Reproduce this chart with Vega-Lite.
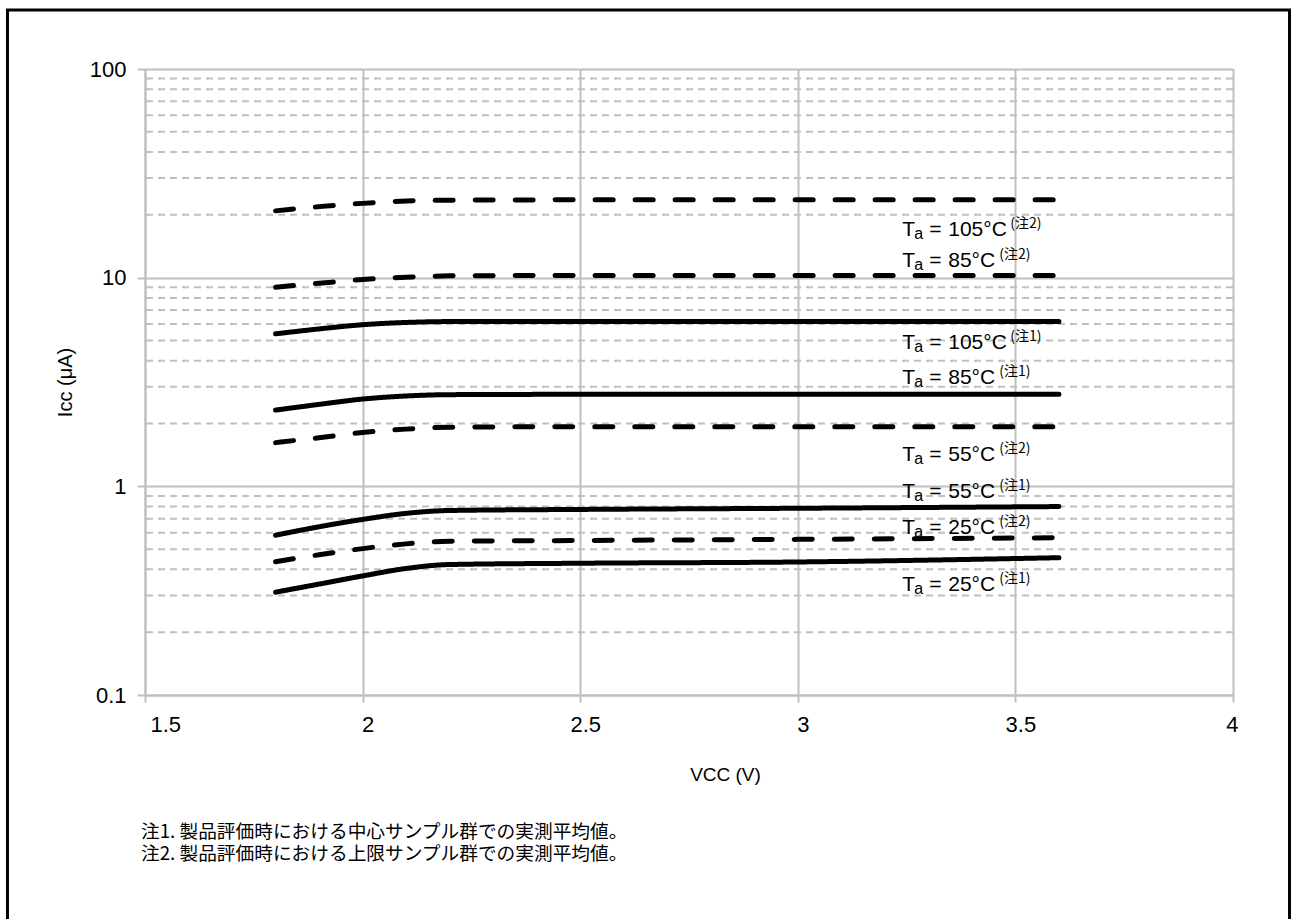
{
  "$schema": "https://vega.github.io/schema/vega-lite/v6.json",
  "autosize": {"type": "none"},
  "width": 1088,
  "height": 626,
  "padding": {"left": 145, "top": 69, "right": 58, "bottom": 224},
  "background": "white",
  "config": {
    "view": {"stroke": null},
    "font": "Liberation Sans",
    "axis": {"labelFont": "Liberation Sans", "titleFont": "Liberation Sans", "labelColor": "black", "titleColor": "black", "titleFontWeight": "normal"}
  },
  "datasets": {
    "series": [
      {"vcc": 1.8, "icc": 20.9, "series": "105注2", "note": "注2"},
      {"vcc": 1.9, "icc": 21.9, "series": "105注2", "note": "注2"},
      {"vcc": 2.0, "icc": 22.7, "series": "105注2", "note": "注2"},
      {"vcc": 2.1, "icc": 23.3, "series": "105注2", "note": "注2"},
      {"vcc": 2.2, "icc": 23.5, "series": "105注2", "note": "注2"},
      {"vcc": 2.5, "icc": 23.6, "series": "105注2", "note": "注2"},
      {"vcc": 3.0, "icc": 23.6, "series": "105注2", "note": "注2"},
      {"vcc": 3.6, "icc": 23.6, "series": "105注2", "note": "注2"},
      {"vcc": 1.8, "icc": 9.0, "series": "85注2", "note": "注2"},
      {"vcc": 1.9, "icc": 9.4, "series": "85注2", "note": "注2"},
      {"vcc": 2.0, "icc": 9.8, "series": "85注2", "note": "注2"},
      {"vcc": 2.1, "icc": 10.05, "series": "85注2", "note": "注2"},
      {"vcc": 2.2, "icc": 10.2, "series": "85注2", "note": "注2"},
      {"vcc": 2.5, "icc": 10.25, "series": "85注2", "note": "注2"},
      {"vcc": 3.0, "icc": 10.25, "series": "85注2", "note": "注2"},
      {"vcc": 3.6, "icc": 10.25, "series": "85注2", "note": "注2"},
      {"vcc": 1.8, "icc": 5.38, "series": "105注1", "note": "注1"},
      {"vcc": 1.9, "icc": 5.68, "series": "105注1", "note": "注1"},
      {"vcc": 2.0, "icc": 5.95, "series": "105注1", "note": "注1"},
      {"vcc": 2.1, "icc": 6.1, "series": "105注1", "note": "注1"},
      {"vcc": 2.2, "icc": 6.16, "series": "105注1", "note": "注1"},
      {"vcc": 2.5, "icc": 6.17, "series": "105注1", "note": "注1"},
      {"vcc": 3.0, "icc": 6.17, "series": "105注1", "note": "注1"},
      {"vcc": 3.6, "icc": 6.17, "series": "105注1", "note": "注1"},
      {"vcc": 1.8, "icc": 2.32, "series": "85注1", "note": "注1"},
      {"vcc": 1.9, "icc": 2.47, "series": "85注1", "note": "注1"},
      {"vcc": 2.0, "icc": 2.62, "series": "85注1", "note": "注1"},
      {"vcc": 2.1, "icc": 2.71, "series": "85注1", "note": "注1"},
      {"vcc": 2.2, "icc": 2.75, "series": "85注1", "note": "注1"},
      {"vcc": 2.5, "icc": 2.76, "series": "85注1", "note": "注1"},
      {"vcc": 3.0, "icc": 2.76, "series": "85注1", "note": "注1"},
      {"vcc": 3.6, "icc": 2.76, "series": "85注1", "note": "注1"},
      {"vcc": 1.8, "icc": 1.62, "series": "55注2", "note": "注2"},
      {"vcc": 1.9, "icc": 1.71, "series": "55注2", "note": "注2"},
      {"vcc": 2.0, "icc": 1.81, "series": "55注2", "note": "注2"},
      {"vcc": 2.1, "icc": 1.88, "series": "55注2", "note": "注2"},
      {"vcc": 2.2, "icc": 1.92, "series": "55注2", "note": "注2"},
      {"vcc": 2.5, "icc": 1.93, "series": "55注2", "note": "注2"},
      {"vcc": 3.0, "icc": 1.93, "series": "55注2", "note": "注2"},
      {"vcc": 3.6, "icc": 1.93, "series": "55注2", "note": "注2"},
      {"vcc": 1.8, "icc": 0.583, "series": "55注1", "note": "注1"},
      {"vcc": 1.9, "icc": 0.64, "series": "55注1", "note": "注1"},
      {"vcc": 2.0, "icc": 0.694, "series": "55注1", "note": "注1"},
      {"vcc": 2.1, "icc": 0.742, "series": "55注1", "note": "注1"},
      {"vcc": 2.2, "icc": 0.766, "series": "55注1", "note": "注1"},
      {"vcc": 2.5, "icc": 0.775, "series": "55注1", "note": "注1"},
      {"vcc": 3.0, "icc": 0.785, "series": "55注1", "note": "注1"},
      {"vcc": 3.6, "icc": 0.8, "series": "55注1", "note": "注1"},
      {"vcc": 1.8, "icc": 0.435, "series": "25注2", "note": "注2"},
      {"vcc": 1.9, "icc": 0.47, "series": "25注2", "note": "注2"},
      {"vcc": 2.0, "icc": 0.503, "series": "25注2", "note": "注2"},
      {"vcc": 2.1, "icc": 0.53, "series": "25注2", "note": "注2"},
      {"vcc": 2.2, "icc": 0.545, "series": "25注2", "note": "注2"},
      {"vcc": 2.5, "icc": 0.55, "series": "25注2", "note": "注2"},
      {"vcc": 3.0, "icc": 0.557, "series": "25注2", "note": "注2"},
      {"vcc": 3.6, "icc": 0.567, "series": "25注2", "note": "注2"},
      {"vcc": 1.8, "icc": 0.311, "series": "25注1", "note": "注1"},
      {"vcc": 1.9, "icc": 0.34, "series": "25注1", "note": "注1"},
      {"vcc": 2.0, "icc": 0.372, "series": "25注1", "note": "注1"},
      {"vcc": 2.1, "icc": 0.404, "series": "25注1", "note": "注1"},
      {"vcc": 2.2, "icc": 0.422, "series": "25注1", "note": "注1"},
      {"vcc": 2.5, "icc": 0.428, "series": "25注1", "note": "注1"},
      {"vcc": 3.0, "icc": 0.434, "series": "25注1", "note": "注1"},
      {"vcc": 3.6, "icc": 0.455, "series": "25注1", "note": "注1"}
    ],
    "labels": [
      {"lx": 3.24, "ly": 15.8, "temp": "105°C", "note": "(注2)"},
      {"lx": 3.24, "ly": 11.27, "temp": "85°C", "note": "(注2)"},
      {"lx": 3.24, "ly": 4.53, "temp": "105°C", "note": "(注1)"},
      {"lx": 3.24, "ly": 3.09, "temp": "85°C", "note": "(注1)"},
      {"lx": 3.24, "ly": 1.32, "temp": "55°C", "note": "(注2)"},
      {"lx": 3.24, "ly": 0.875, "temp": "55°C", "note": "(注1)"},
      {"lx": 3.24, "ly": 0.593, "temp": "25°C", "note": "(注2)"},
      {"lx": 3.24, "ly": 0.315, "temp": "25°C", "note": "(注1)"}
    ],
    "minor": [
      {"g": 0.2}, {"g": 0.3}, {"g": 0.4}, {"g": 0.5}, {"g": 0.6}, {"g": 0.7}, {"g": 0.8}, {"g": 0.9},
      {"g": 2}, {"g": 3}, {"g": 4}, {"g": 5}, {"g": 6}, {"g": 7}, {"g": 8}, {"g": 9},
      {"g": 20}, {"g": 30}, {"g": 40}, {"g": 50}, {"g": 60}, {"g": 70}, {"g": 80}, {"g": 90}
    ],
    "notes": [
      {"fx": 1.5, "fy": 0.02067, "line": "注1. 製品評価時における中心サンプル群での実測平均値。\n注2. 製品評価時における上限サンプル群での実測平均値。"}
    ],
    "frame": [{"x1": 1.184, "x2": 4.1298, "y1": 191.8, "y2": 0.008}]
  },
  "layer": [
    {
      "data": {"name": "minor"},
      "mark": {"type": "rule", "color": "#c0c0c0", "strokeWidth": 2, "strokeDash": [7, 5]},
      "encoding": {
        "y": {"field": "g", "type": "quantitative", "scale": {"type": "log", "domain": [0.1, 100], "nice": false},
          "axis": {"values": [0.1, 1, 10, 100], "format": "~g", "grid": true, "gridColor": "#c0c0c0", "gridWidth": 2,
            "domainColor": "#c0c0c0", "domainWidth": 2, "tickColor": "#c0c0c0", "tickWidth": 2, "tickSize": 8,
            "labelFontSize": 22, "labelPadding": 11, "title": "Icc (μA)", "titleFontSize": 20, "titlePadding": 14}}
      }
    },
    {
      "data": {"name": "series"},
      "mark": {"type": "line", "color": "black", "strokeWidth": 5, "strokeCap": "round", "interpolate": "monotone"},
      "encoding": {
        "x": {"field": "vcc", "type": "quantitative", "scale": {"domain": [1.5, 4], "nice": false, "zero": false},
          "axis": {"values": [1.5, 2, 2.5, 3, 3.5, 4], "format": "~g", "grid": true, "gridColor": "#c0c0c0", "gridWidth": 2,
            "domainColor": "#c0c0c0", "domainWidth": 2, "tickColor": "#c0c0c0", "tickWidth": 2, "tickSize": 7,
            "labelFontSize": 22, "labelPadding": 12, "labelOffset": 5, "title": "VCC (V)", "titleFontSize": 19, "titlePadding": 30, "titleX": 580}},
        "y": {"field": "icc", "type": "quantitative"},
        "detail": {"field": "series"},
        "strokeDash": {"field": "note", "type": "nominal", "scale": {"domain": ["注1", "注2"], "range": [[1, 0], [18, 22]]}, "legend": null}
      }
    },
    {
      "data": {"name": "labels"},
      "mark": {"type": "text", "text": "T", "fontSize": 21, "align": "left", "baseline": "alphabetic", "color": "black"},
      "encoding": {"x": {"field": "lx", "type": "quantitative"}, "y": {"field": "ly", "type": "quantitative"}}
    },
    {
      "data": {"name": "labels"},
      "mark": {"type": "text", "text": "a", "fontSize": 16, "align": "left", "baseline": "alphabetic", "dx": 12, "dy": 3, "color": "black"},
      "encoding": {"x": {"field": "lx", "type": "quantitative"}, "y": {"field": "ly", "type": "quantitative"}}
    },
    {
      "data": {"name": "labels"},
      "mark": {"type": "text", "fontSize": 21, "align": "left", "baseline": "alphabetic", "dx": 27, "color": "black"},
      "encoding": {"x": {"field": "lx", "type": "quantitative"}, "y": {"field": "ly", "type": "quantitative"},
        "text": {"value": "="}}
    },
    {
      "data": {"name": "labels"},
      "mark": {"type": "text", "fontSize": 21, "align": "left", "baseline": "alphabetic", "dx": 46, "color": "black"},
      "encoding": {"x": {"field": "lx", "type": "quantitative"}, "y": {"field": "ly", "type": "quantitative"},
        "text": {"field": "temp"}}
    },
    {
      "data": {"name": "labels"},
      "transform": [{"filter": "datum.temp == '105°C'"}],
      "mark": {"type": "text", "font": "Noto Sans CJK JP", "fontSize": 14, "align": "left", "baseline": "alphabetic", "dx": 108, "dy": -8, "color": "black"},
      "encoding": {"x": {"field": "lx", "type": "quantitative"}, "y": {"field": "ly", "type": "quantitative"},
        "text": {"field": "note"}}
    },
    {
      "data": {"name": "labels"},
      "transform": [{"filter": "datum.temp != '105°C'"}],
      "mark": {"type": "text", "font": "Noto Sans CJK JP", "fontSize": 14, "align": "left", "baseline": "alphabetic", "dx": 97, "dy": -8, "color": "black"},
      "encoding": {"x": {"field": "lx", "type": "quantitative"}, "y": {"field": "ly", "type": "quantitative"},
        "text": {"field": "note"}}
    },
    {
      "data": {"name": "notes"},
      "mark": {"type": "text", "font": "Noto Sans CJK JP", "fontSize": 18.7, "align": "left", "baseline": "alphabetic", "lineBreak": "\n", "lineHeight": 22, "dx": -4, "color": "black", "clip": false},
      "encoding": {"x": {"field": "fx", "type": "quantitative"}, "y": {"field": "fy", "type": "quantitative"},
        "text": {"field": "line"}}
    },
    {
      "data": {"name": "frame"},
      "mark": {"type": "rect", "fill": null, "fillOpacity": 0, "stroke": "black", "strokeWidth": 3, "clip": false},
      "encoding": {
        "x": {"field": "x1", "type": "quantitative"}, "x2": {"field": "x2"},
        "y": {"field": "y1", "type": "quantitative"}, "y2": {"field": "y2"}
      }
    }
  ]
}
